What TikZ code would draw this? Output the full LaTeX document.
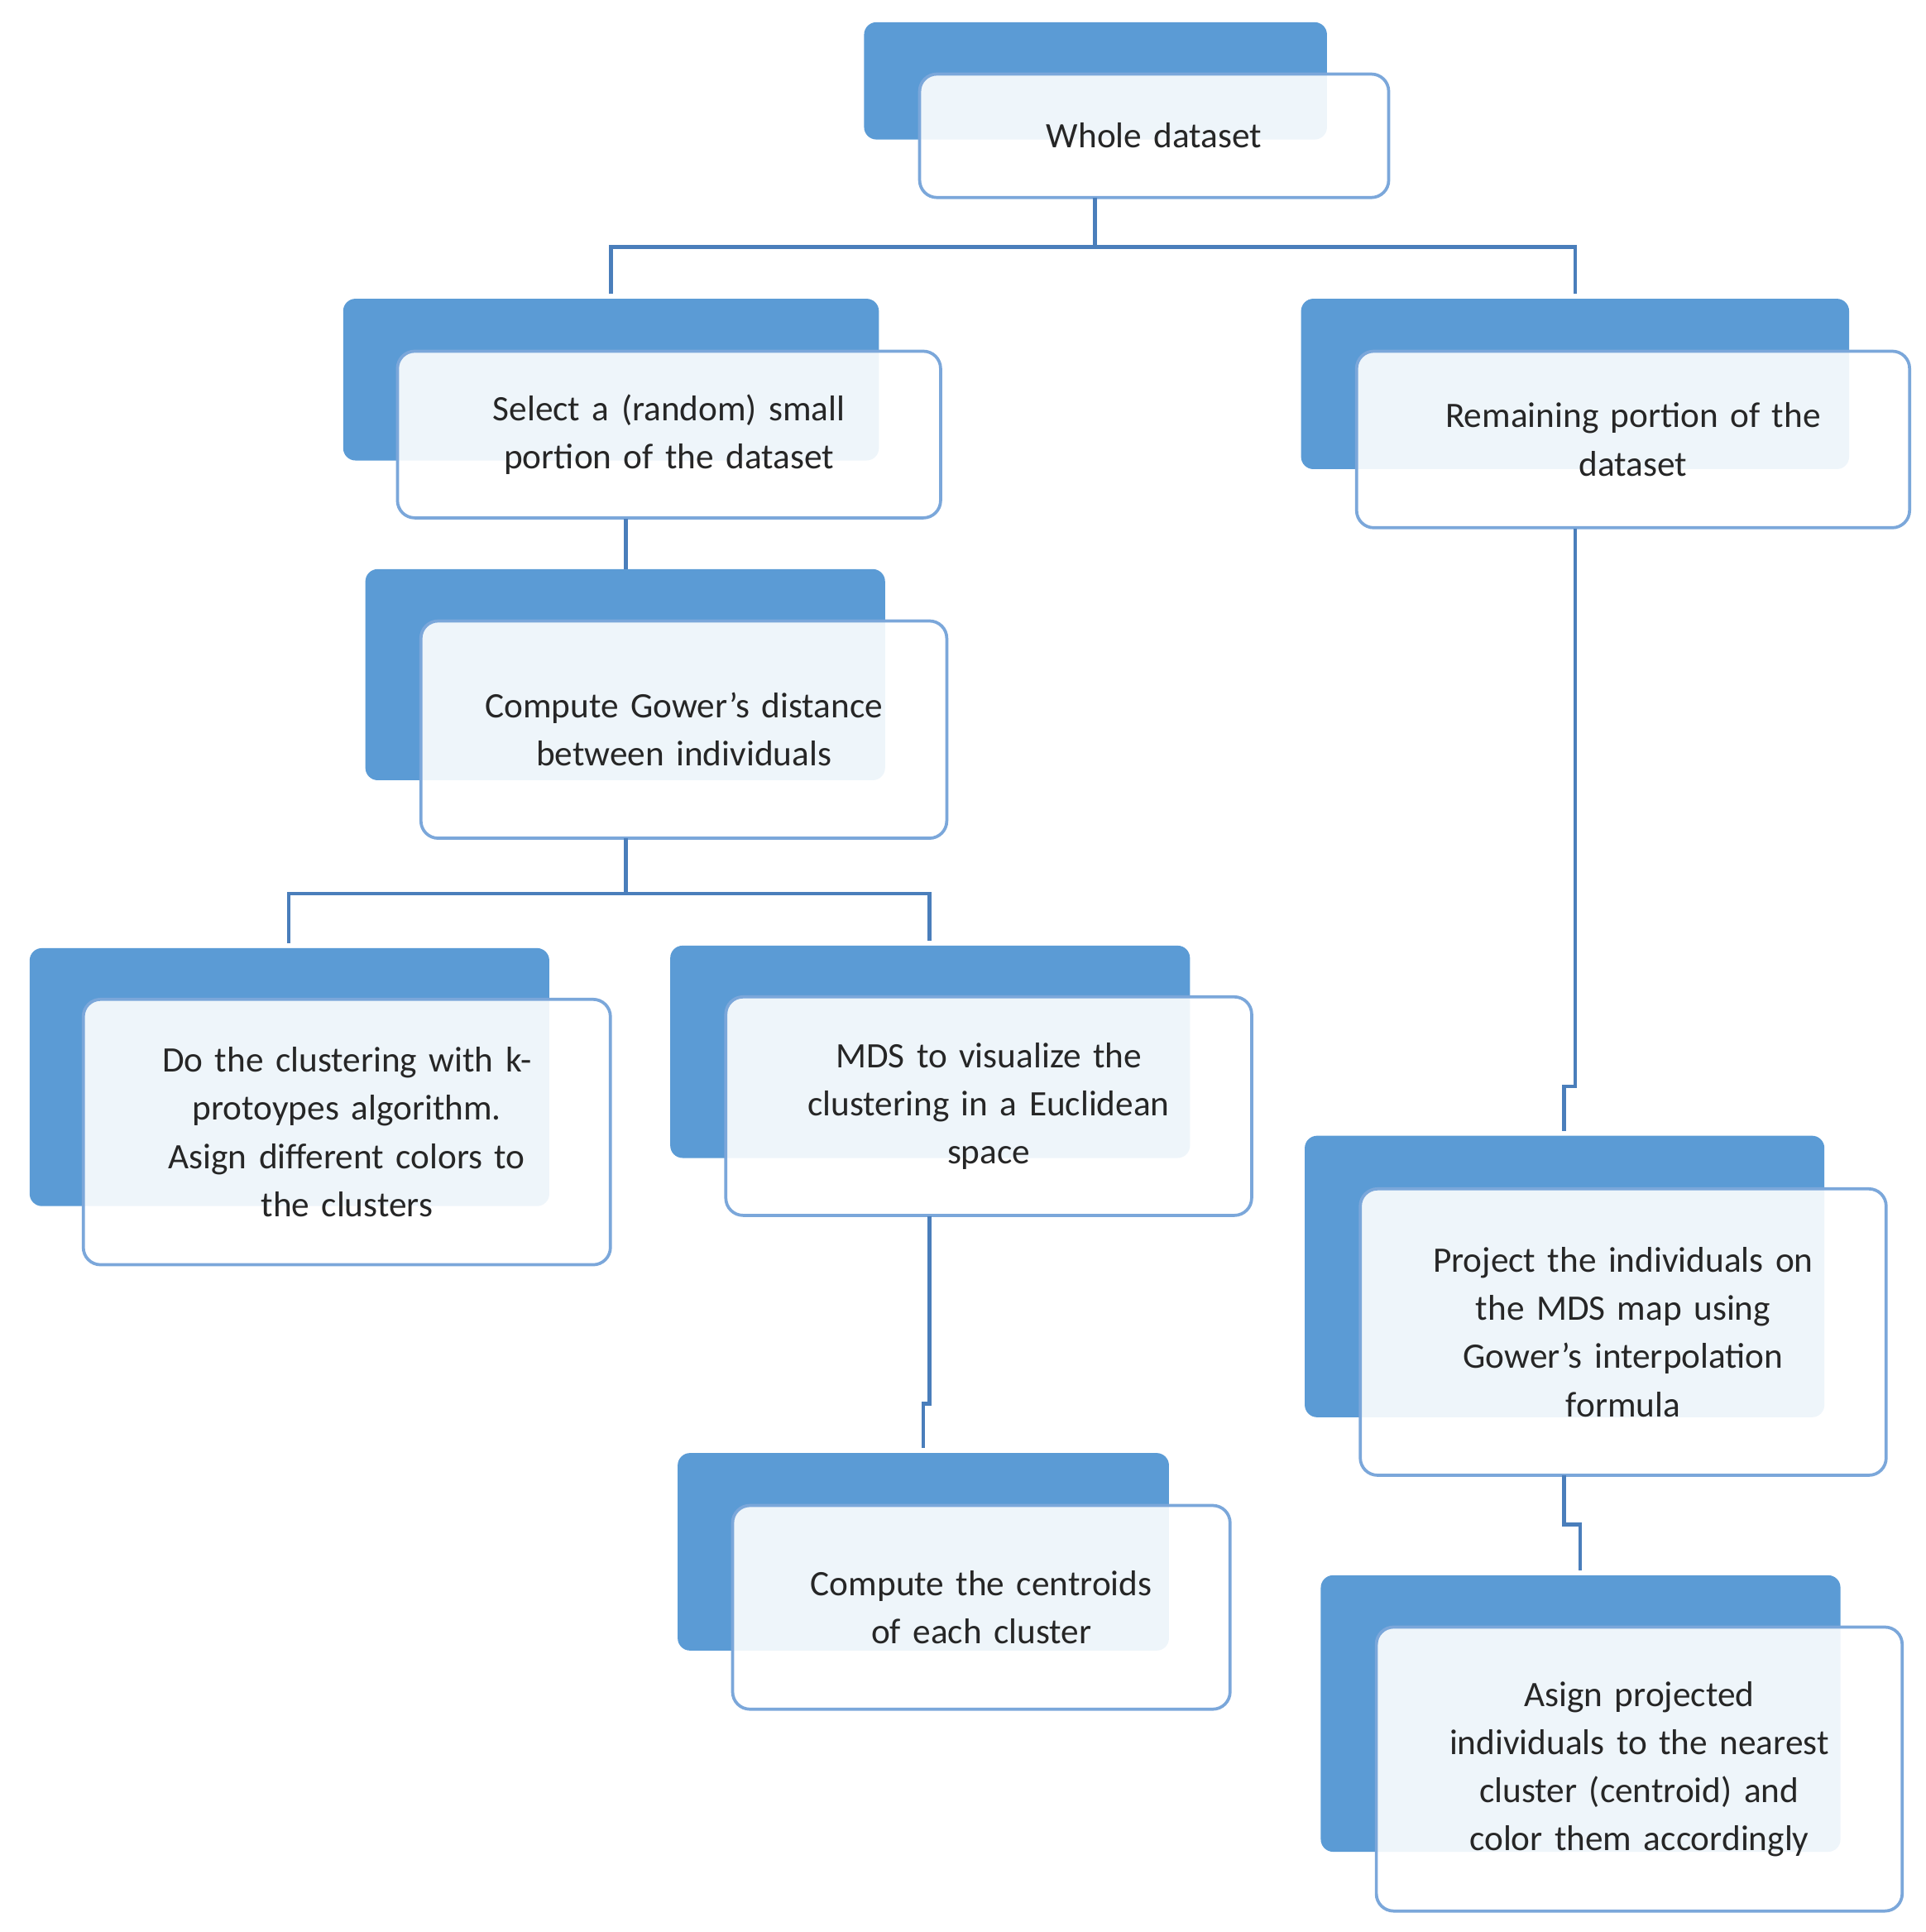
\documentclass[tikz,border=0pt]{standalone}
\usepackage{fontspec}
\setmainfont{Carlito}
\definecolor{dark}{HTML}{5B9BD5}
\definecolor{edge}{HTML}{7BA7DA}
\definecolor{conn}{HTML}{4A7EBB}
\begin{document}
\begin{tikzpicture}[x=1pt,y=-1pt,
 back/.style={fill=dark,rounded corners=10pt},
 front/.style={draw=edge,line width=2.5pt,fill=white,fill opacity=0.9,text opacity=1,rounded corners=14pt,align=center,font=\fontsize{29}{39}\selectfont,text=black!85},
 conn/.style={draw=conn,line width=3pt}]
\useasboundingbox (0,0) rectangle (1560,1565);
\newcommand\bx[6]{% name, back x1,y1, front x1,y1,x2,y2 given via args
}
% back boxes
\fill[back] (700,18) rectangle (1075,113);
\fill[back] (278,242) rectangle (712,373);
\fill[back] (1054,242) rectangle (1498,380);
\fill[back] (296,461) rectangle (717,632);
\fill[back] (24,768) rectangle (445,977);
\fill[back] (543,766) rectangle (964,938);
\fill[back] (1057,920) rectangle (1478,1148);
\fill[back] (549,1177) rectangle (947,1337);
\fill[back] (1070,1276) rectangle (1491,1500);
% front boxes
\node[front,minimum width=380pt,minimum height=100pt,text width=360pt] (w) at (935,110) {Whole dataset};
\node[front,minimum width=440pt,minimum height=135pt,text width=400pt] (s) at (542,352) {Select a (random) small\\portion of the dataset};
\node[front,minimum width=448pt,minimum height=143pt,text width=410pt] (r) at (1323,356) {Remaining portion of the\\dataset};
\node[front,minimum width=426pt,minimum height=176pt,text width=400pt] (g) at (554,591) {Compute Gower's distance\\between individuals};
\node[front,minimum width=427pt,minimum height=215pt,text width=400pt] (k) at (281,917) {Do the clustering with k-\\protoypes algorithm.\\Asign different colors to\\the clusters};
\node[front,minimum width=426pt,minimum height=177pt,text width=400pt] (m) at (801,896) {MDS to visualize the\\clustering in a Euclidean\\space};
\node[front,minimum width=426pt,minimum height=232pt,text width=400pt] (p) at (1315,1079) {Project the individuals on\\the MDS map using\\Gower's interpolation\\formula};
\node[front,minimum width=403pt,minimum height=165pt,text width=380pt] (c) at (795,1302) {Compute the centroids\\of each cluster};
\node[front,minimum width=426pt,minimum height=230pt,text width=400pt] (a) at (1328,1433) {Asign projected\\individuals to the nearest\\cluster (centroid) and\\color them accordingly};
% connectors
\coordinate (w1) at (887,160); \coordinate (w2) at (887,200);
\draw[conn] (w1) -- (w2) (495,238) -- (495,200) -- (1276,200) -- (1276,238);
\coordinate (s1) at (507,420); \coordinate (g1) at (507,461);
\draw[conn] (s1) -- (g1);
\coordinate (g2) at (507,679);
\draw[conn] (g2) -- (507,724) (234,764) -- (234,724) -- (753,724) -- (753,762);
\coordinate (m1) at (753,985); \coordinate (c1) at (748,1173);
\draw[conn] (m1) -- (753,1137) -- (748,1137) -- (c1);
\coordinate (r1) at (1276,428); \coordinate (p1) at (1267,916);
\draw[conn] (r1) -- (1276,880) -- (1267,880) -- (p1);
\coordinate (p2) at (1267,1195); \coordinate (a1) at (1280,1272);
\draw[conn] (p2) -- (1267,1235) -- (1280,1235) -- (a1);
\end{tikzpicture}
\end{document}
